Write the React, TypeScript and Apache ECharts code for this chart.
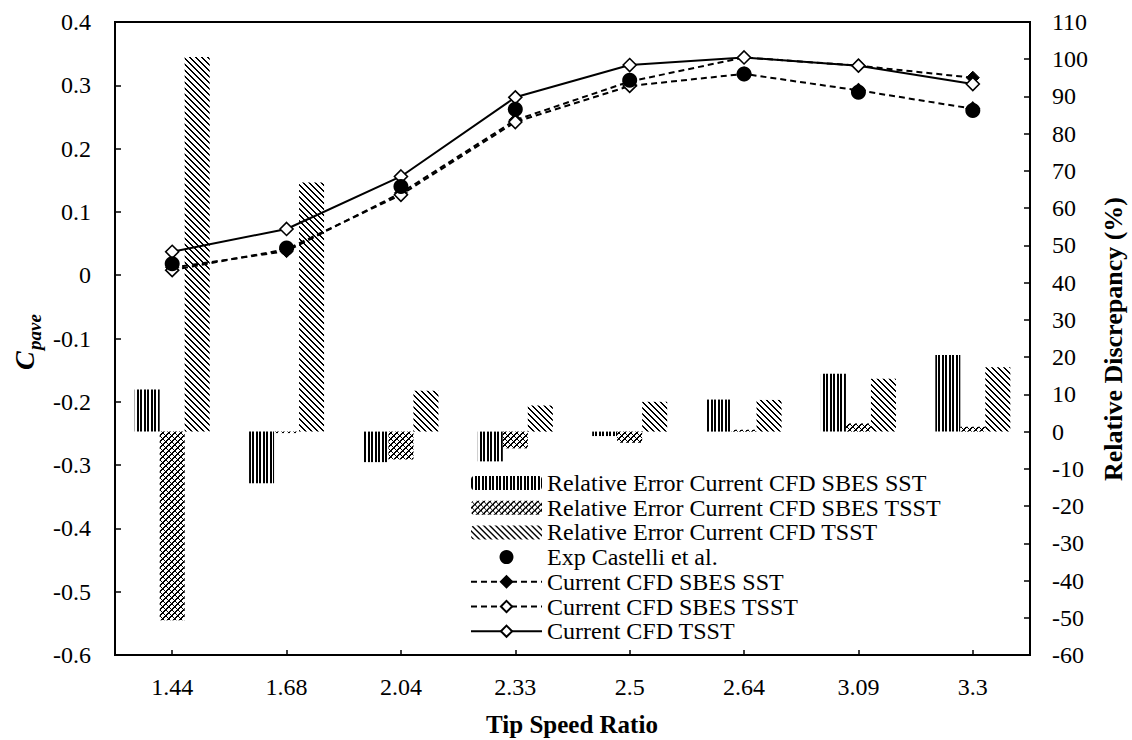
import React, { useEffect, useRef } from "react";
import * as echarts from "echarts";

// Tip speed ratios (category axis)
const tipSpeedRatios = ["1.44", "1.68", "2.04", "2.33", "2.5", "2.64", "3.09", "3.3"];

// Power coefficient C_pave (left axis)
const expCastelli = [0.018, 0.043, 0.14, 0.262, 0.308, 0.318, 0.289, 0.26];
const cfdSbesSst = [0.012, 0.038, 0.13, 0.245, 0.306, 0.344, 0.331, 0.312];
const cfdSbesTsst = [0.008, 0.041, 0.127, 0.242, 0.299, 0.318, 0.292, 0.263];
const cfdTsst = [0.037, 0.073, 0.156, 0.281, 0.332, 0.344, 0.331, 0.302];

// Relative error against the experiment, % (right axis)
const errSbesSst = [11.3, -13.9, -8.2, -8.0, -1.2, 8.6, 15.5, 20.6];
const errSbesTsst = [-50.7, -0.4, -7.5, -4.5, -3.0, 0.5, 2.2, 1.3];
const errTsst = [100.6, 66.9, 11.0, 7.0, 8.0, 8.5, 14.2, 17.3];

const FONT = "Liberation Serif, Times New Roman, serif";

type Ink = (x: number, y: number) => boolean;

// Builds a small black-on-white tile used as a repeating hatch fill.
function hatch(w: number, h: number, ink: Ink) {
  const canvas = document.createElement("canvas");
  canvas.width = w;
  canvas.height = h;
  const ctx = canvas.getContext("2d");
  if (ctx) {
    ctx.fillStyle = "#ffffff";
    ctx.fillRect(0, 0, w, h);
    ctx.fillStyle = "#000000";
    for (let y = 0; y < h; y++) {
      for (let x = 0; x < w; x++) {
        if (ink(x, y)) ctx.fillRect(x, y, 1, 1);
      }
    }
  }
  return { image: canvas.toDataURL(), repeat: "repeat", imageWidth: w, imageHeight: h };
}

const mod = (a: number, n: number) => ((a % n) + n) % n;

const stripeInk: Ink = (x) => {
  const m = mod(x, 7);
  return m === 0 || m === 1 || m === 4 || m === 5;
};
const diagonalInk: Ink = (x, y) => mod(x - y, 6) < 2;
const weaveInk: Ink = (x, y) => mod(x - y, 6) === 0 || mod(x + y, 6) < 2;

export default function App() {
  const ref = useRef<HTMLDivElement>(null);

  useEffect(() => {
    if (!ref.current) return;
    const chart = echarts.init(ref.current, undefined, { renderer: "svg" });

    const stripes = hatch(7, 7, stripeInk);
    const diagonal = hatch(6, 6, diagonalInk);
    const weave = hatch(6, 6, weaveInk);

    const axisLine = { show: true, onZero: false, lineStyle: { color: "#000", width: 2 } };
    const tickStyle = { color: "#000", width: 1.5 };
    const labelStyle = { color: "#000", fontSize: 24, fontFamily: FONT };

    const barCommon = {
      type: "bar",
      yAxisIndex: 1,
      barWidth: 25,
      barGap: "0%",
    };

    const openDiamond = {
      symbol: "diamond",
      symbolSize: 13,
      itemStyle: { color: "#fff", borderColor: "#000", borderWidth: 1.6 },
    };

    const option = {
      animation: false,
      backgroundColor: "#ffffff",
      textStyle: { fontFamily: FONT, color: "#000" },
      grid: {
        left: 115,
        right: 102,
        top: 22,
        bottom: 85,
        show: true,
        borderColor: "#000",
        borderWidth: 2,
        backgroundColor: "transparent",
      },
      legend: {
        orient: "vertical",
        left: 470,
        top: 471,
        padding: 0,
        itemGap: 0.7,
        itemWidth: 71,
        itemHeight: 14,
        selectedMode: false,
        textStyle: { fontFamily: FONT, fontSize: 24, color: "#000", lineHeight: 24 },
        data: [
          "Relative Error Current CFD SBES SST",
          "Relative Error Current CFD SBES TSST",
          "Relative Error Current CFD TSST",
          "Exp Castelli et al.",
          "Current CFD SBES SST",
          "Current CFD SBES TSST",
          "Current CFD TSST",
        ],
      },
      xAxis: {
        type: "category",
        data: tipSpeedRatios,
        axisLine,
        axisTick: { show: true, inside: true, alignWithLabel: true, length: 5, lineStyle: tickStyle },
        axisLabel: { ...labelStyle, margin: 20 },
        splitLine: { show: false },
      },
      yAxis: [
        {
          type: "value",
          position: "left",
          min: -0.6,
          max: 0.4,
          interval: 0.1,
          axisLine,
          axisTick: { show: true, inside: true, length: 6, lineStyle: tickStyle },
          axisLabel: { ...labelStyle, margin: 24 },
          splitLine: { show: false },
        },
        {
          type: "value",
          position: "right",
          min: -60,
          max: 110,
          interval: 10,
          axisLine,
          axisTick: { show: true, inside: true, length: 6, lineStyle: tickStyle },
          axisLabel: { ...labelStyle, margin: 22 },
          splitLine: { show: false },
        },
      ],
      graphic: [
        {
          type: "text",
          x: 572,
          y: 724,
          style: {
            text: "Tip Speed Ratio",
            fontFamily: FONT,
            fontSize: 25,
            fontWeight: "bold",
            fill: "#000",
            align: "center",
            verticalAlign: "middle",
          },
        },
        {
          type: "text",
          x: 1113,
          y: 339,
          rotation: Math.PI / 2,
          style: {
            text: "Relative Discrepancy (%)",
            fontFamily: FONT,
            fontSize: 26,
            fontWeight: "bold",
            fill: "#000",
            align: "center",
            verticalAlign: "middle",
          },
        },
        {
          type: "text",
          x: 24,
          y: 370,
          rotation: Math.PI / 2,
          style: {
            text: "C",
            fontFamily: FONT,
            fontSize: 28,
            fontWeight: "bold",
            fontStyle: "italic",
            fill: "#000",
            align: "left",
            verticalAlign: "middle",
          },
        },
        {
          type: "text",
          x: 34,
          y: 350,
          rotation: Math.PI / 2,
          style: {
            text: "pave",
            fontFamily: FONT,
            fontSize: 19,
            fontWeight: "bold",
            fontStyle: "italic",
            fill: "#000",
            align: "left",
            verticalAlign: "middle",
          },
        },
      ],
      series: [
        { ...barCommon, name: "Relative Error Current CFD SBES SST", data: errSbesSst, itemStyle: { color: stripes } },
        { ...barCommon, name: "Relative Error Current CFD SBES TSST", data: errSbesTsst, itemStyle: { color: weave } },
        { ...barCommon, name: "Relative Error Current CFD TSST", data: errTsst, itemStyle: { color: diagonal } },
        {
          name: "Current CFD SBES SST",
          type: "line",
          yAxisIndex: 0,
          z: 3,
          data: cfdSbesSst,
          symbol: "diamond",
          symbolSize: 13,
          itemStyle: { color: "#000", borderColor: "#000", borderWidth: 1 },
          lineStyle: { color: "#000", width: 2, type: [6, 4] },
        },
        {
          name: "Current CFD SBES TSST",
          type: "line",
          yAxisIndex: 0,
          z: 4,
          data: cfdSbesTsst,
          ...openDiamond,
          lineStyle: { color: "#000", width: 2, type: [6, 4] },
        },
        {
          name: "Current CFD TSST",
          type: "line",
          yAxisIndex: 0,
          z: 5,
          data: cfdTsst,
          ...openDiamond,
          lineStyle: { color: "#000", width: 2, type: "solid" },
        },
        {
          name: "Exp Castelli et al.",
          type: "scatter",
          yAxisIndex: 0,
          z: 6,
          data: expCastelli,
          symbol: "circle",
          symbolSize: 15,
          itemStyle: { color: "#000", opacity: 1 },
        },
      ],
    };

    chart.setOption(option as any);
    return () => chart.dispose();
  }, []);

  return (
    <div
      ref={ref}
      style={{ position: "fixed", left: 0, top: 0, width: 1132, height: 740, background: "#fff" }}
    />
  );
}
